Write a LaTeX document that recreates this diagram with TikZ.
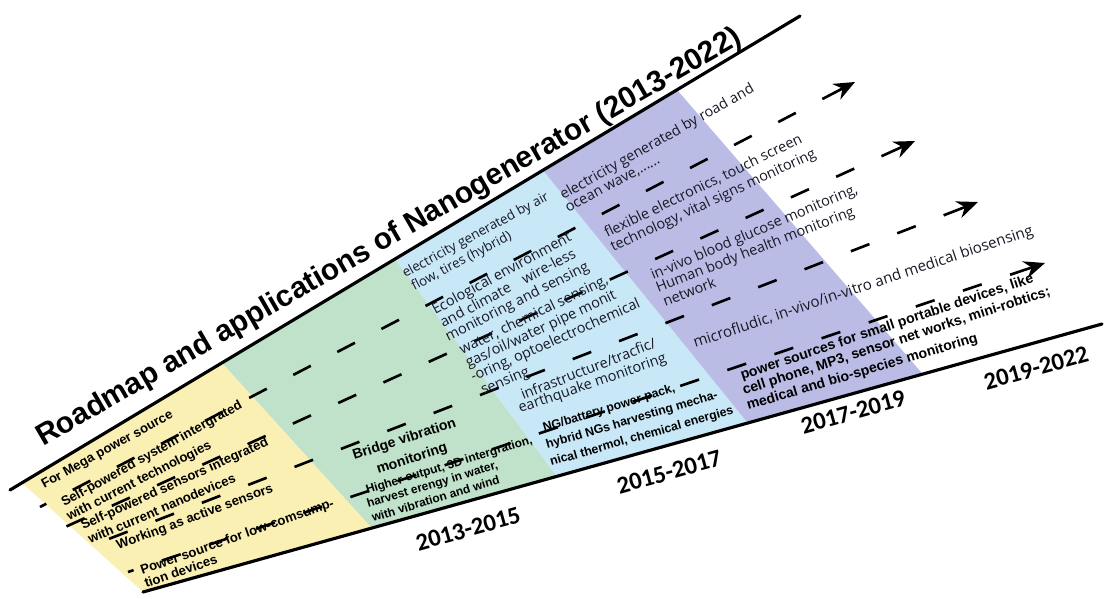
\documentclass[tikz,border=0pt]{standalone}
\usepackage{fontspec}
\setmainfont{Liberation Sans}
\newfontfamily\humfont{Open Sans}
\newfontfamily\yearfont{Carlito}
\usetikzlibrary{
	calc,
	arrows.meta
}
\definecolor{BandYellow}{RGB}{251,240,180}
\definecolor{BandGreen}{RGB}{192,226,203}
\definecolor{BandBlue}{RGB}{200,231,247}
\definecolor{BandPurple}{RGB}{187,188,229}
\definecolor{InkGray}{RGB}{25,25,38}

\tikzset{
	lbl/.style={inner sep=0pt, anchor=base west},
	ybold/.style={lbl, font=\fontsize{7.5}{9}\selectfont\bfseries},
	gbig/.style={lbl, font=\fontsize{8}{9}\selectfont\bfseries},
	gsmall/.style={lbl, font=\fontsize{6.8}{8}\selectfont\bfseries},
	hum/.style={lbl, text=InkGray, font=\fontsize{8.2}{9}\selectfont\humfont},
	bsmall/.style={lbl, font=\fontsize{7}{8}\selectfont\bfseries},
	pbold/.style={lbl, font=\fontsize{8}{9}\selectfont\bfseries},
	yearlbl/.style={inner sep=0pt, rotate=15.6, font=\fontsize{14}{16}\selectfont\yearfont\bfseries},
	headline/.style={inner sep=0pt, anchor=base west, rotate=30, font=\fontsize{17}{20}\selectfont\bfseries},
	axisline/.style={line width=1.8pt, line cap=round},
	trackdash/.style={line width=1.5pt, dash pattern=on 11.3pt off 17pt, dash phase=11.3pt},
	trackhead/.style={line width=1.5pt, -{Stealth[length=12pt,width=10pt,inset=4pt]}}
}

\begin{document}
\begin{tikzpicture}[x=0.02cm,y=-0.02cm]
	\useasboundingbox (0,0) rectangle (1104,598);
	
	% band corners on the two edges
	\coordinate (top0) at (22,482.8);
	\coordinate (top1) at (222,362.8);
	\coordinate (top2) at (395,259);
	\coordinate (top3) at (543,170.2);
	\coordinate (top4) at (677,89.8);
	\coordinate (bot0) at (143,592);
	\coordinate (bot1) at (372,528.1);
	\coordinate (bot2) at (557,476.5);
	\coordinate (bot3) at (748,423.2);
	\coordinate (bot4) at (923,374.4);
	
	\fill[BandYellow] (top0) -- (top1) -- (bot1) -- (bot0) -- cycle;
	\fill[BandGreen] (top1) -- (top2) -- (bot2) -- (bot1) -- cycle;
	\fill[BandBlue] (top2) -- (top3) -- (bot3) -- (bot2) -- cycle;
	\fill[BandPurple] (top3) -- (top4) -- (bot4) -- (bot3) -- cycle;
	
	% dashed tracks with arrows
	\foreach \r/\sx/\sy/\ex/\ey in {a/40/507/855/82, b/63/528/915/141, c/88/547/978/202, d/128/572/1045/263}
	{
		\coordinate (\r-s) at (\sx,\sy);
		\coordinate (\r-e) at (\ex,\ey);
		\coordinate (\r-m) at ($(\r-e)!21pt!(\r-s)$);
		\draw[trackdash] (\r-m) -- (\r-s);
		\draw[trackhead] (\r-m) -- (\r-e);
	}
	
	% 2013-2015 (yellow)
	\node[ybold, rotate=29] (y1) at (44,489) {For Mega power source};
	\node[ybold, rotate=29] (y2a) at (64,507) {Self-powered system intergrated};
	\node[ybold, rotate=27] (y2b) at (69,521) {with current technologies};
	\node[ybold, rotate=24.5] (y3a) at (83,530) {Self-powered sensors integrated};
	\node[ybold, rotate=23] (y3b) at (90,544) {with current nanodevices};
	\node[ybold, rotate=20.5] (y4) at (118,550) {Working as active sensors};
	\node[ybold, rotate=19.5] (y5a) at (142,575) {Power source for low-comsump-};
	\node[ybold, rotate=19] (y5b) at (146,588) {tion devices};
	
	% 2013-2015 (green)
	\node[gbig, rotate=18] (g1a) at (354,460) {Bridge vibration};
	\node[gbig, rotate=18] (g1b) at (378,474) {monitoring};
	\node[gsmall, rotate=17] (g2a) at (367,494) {Higher output, 3D intergration,};
	\node[gsmall, rotate=17] (g2b) at (368,508) {harvest erengy in water,};
	\node[gsmall, rotate=17] (g2c) at (373,522) {with vibration and wind};
	
	% 2015-2017 (blue)
	\node[hum, rotate=28.5, font=\fontsize{7.6}{9}\selectfont\humfont] (b1a) at (405,278) {electricity generated by air};
	\node[hum, rotate=28, font=\fontsize{7.6}{9}\selectfont\humfont] (b1b) at (414,291) {flow, tires (hybrid)};
	\node[hum, rotate=28.5] (b2a) at (435,315) {Ecological environment};
	\node[hum, rotate=28] (b2b) at (443,328) {and climate\quad wire-less};
	\node[hum, rotate=27] (b2c) at (448,342) {monitoring and sensing};
	\node[hum, rotate=26] (b2d) at (462,355) {water, chemical sensing,};
	\node[hum, rotate=25] (b2e) at (468,368) {gas/oil/water pipe monit};
	\node[hum, rotate=24] (b2f) at (473,382) {-oring, optoelectrochemical};
	\node[hum, rotate=23] (b2g) at (483,395) {sensing};
	\node[hum, rotate=21.5] (b3a) at (523,400) {infrastructure/tracfic/};
	\node[hum, rotate=19] (b3b) at (520,413) {earthquake monitoring};
	\node[bsmall, rotate=17] (b4a) at (544,432) {NG/battery power pack,};
	\node[bsmall, rotate=16.5] (b4b) at (547,449) {hybrid NGs harvesting mecha-};
	\node[bsmall, rotate=16] (b4c) at (551,466) {nical thermol, chemical energies};
	
	% 2017-2019 (purple)
	\node[hum, rotate=29.5] (p1a) at (563,200) {electricity generated by road and};
	\node[hum, rotate=28.5] (p1b) at (568,213) {ocean wave,......};
	\node[hum, rotate=26] (p2a) at (607,238) {flexible electronics, touch screen};
	\node[hum, rotate=25] (p2b) at (613,252) {technology, vital signs monitoring};
	\node[hum, rotate=23] (p3a) at (653,280) {in-vivo blood glucose monitoring,};
	\node[hum, rotate=21.5] (p3b) at (658,293) {Human body health monitoring};
	\node[hum, rotate=21] (p3c) at (665,307) {network};
	\node[hum, rotate=18.5, font=\fontsize{8.6}{9}\selectfont\humfont] (p4) at (695,348) {microfludic, in-vivo/in-vitro and medical biosensing};
	\node[pbold, rotate=18.5] (p5a) at (742,380) {power sources for small portable devices, like};
	\node[pbold, rotate=18] (p5b) at (744,395) {cell phone, MP3, sensor net works, mini-robtics;};
	\node[pbold, rotate=16.5] (p5c) at (748,410) {medical and bio-species monitoring};
	
	% edges of the road
	\coordinate (topL) at (10,490);
	\coordinate (topR) at (800,16);
	\coordinate (botL) at (143,592);
	\coordinate (botR) at (1102,324);
	\draw[axisline] (topL) -- (topR);
	\draw[axisline] (botL) -- (botR);
	
	\node[headline] (title) at (43,447) {Roadmap and applications of Nanogenerator (2013-2022)};
	
	\node[yearlbl] (yr1) at (468,529) {2013-2015};
	\node[yearlbl] (yr2) at (669,472) {2015-2017};
	\node[yearlbl] (yr3) at (853,412) {2017-2019};
	\node[yearlbl] (yr4) at (1036,368) {2019-2022};
	
\end{tikzpicture}
\end{document}
